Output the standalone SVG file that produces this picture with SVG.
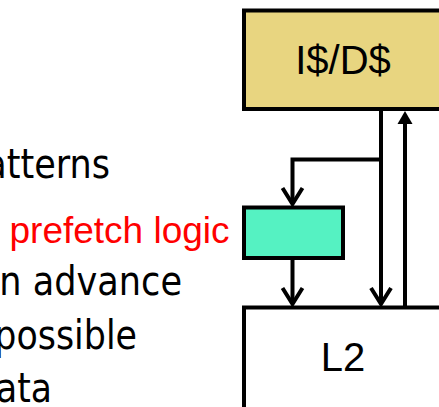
<svg xmlns="http://www.w3.org/2000/svg" width="439" height="407" viewBox="0 0 439 407">
<style>
.box{stroke:#000;stroke-width:4}
.lbl{font-family:"Liberation Sans",Arial,sans-serif;font-size:40px;fill:#000;text-anchor:middle}
.body{font-family:"DejaVu Sans",sans-serif;font-size:40px;fill:#000}
.red{font-family:"Liberation Sans",Arial,sans-serif;font-size:37px;fill:#ff0000}
.ln{fill:none;stroke:#000;stroke-width:4}
.ah{fill:none;stroke:#000;stroke-width:4;stroke-linejoin:miter}
</style>
<rect width="439" height="407" fill="#ffffff"/>
<g id="text">
<text class="body" x="-14.8" y="178" textLength="124.8" lengthAdjust="spacingAndGlyphs">atterns</text>
<text class="red" x="9.5" y="243">prefetch logic</text>
<text class="body" x="-0.8" y="295" textLength="182.8" lengthAdjust="spacingAndGlyphs">n advance</text>
<text class="body" x="-5.7" y="349" textLength="142.7" lengthAdjust="spacingAndGlyphs">possible</text>
<text class="body" x="-4" y="402" textLength="56" lengthAdjust="spacingAndGlyphs">ata</text>
</g>
<g id="cache">
<rect class="box" x="244" y="10.5" width="210" height="98.5" fill="#E8D580"/>
<text class="lbl" x="343" y="74">I$/D$</text>
</g>
<g id="prefetch">
<rect class="box" x="244" y="207.5" width="99" height="50.5" fill="#55F2C2"/>
</g>
<g id="l2">
<rect class="box" x="244" y="307.5" width="210" height="120" fill="#ffffff"/>
<text class="lbl" x="343" y="371">L2</text>
</g>
<g id="connectors">
<path class="ln" d="M381 111 V304"/>
<path class="ah" d="M371 288 L381 304 L391 288"/>
<path class="ln" d="M381 159.5 H292.5 V204"/>
<path class="ah" d="M282.5 188 L292.5 204 L302.5 188"/>
<path class="ln" d="M292.5 260 V304"/>
<path class="ah" d="M282.5 288 L292.5 304 L302.5 288"/>
<path class="ln" d="M405 306 V122"/>
<polygon points="405,111 397.5,124 412.5,124" fill="#000"/>
</g>
</svg>
